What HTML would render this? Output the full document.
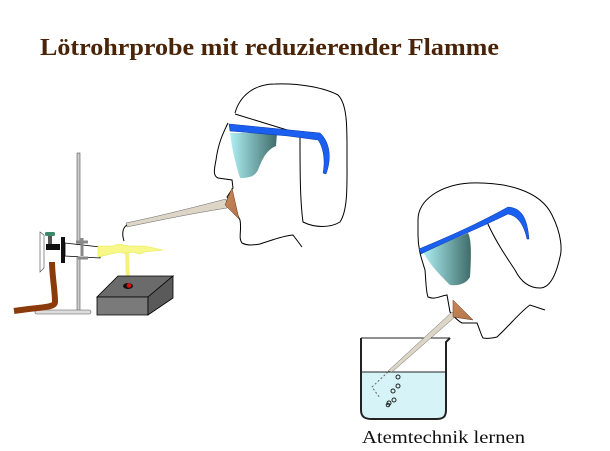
<!DOCTYPE html>
<html><head><meta charset="utf-8"><style>
html,body{margin:0;padding:0;background:#fff;}
svg{display:block;}
</style></head><body>
<svg width="610" height="451" viewBox="0 0 610 451" xmlns="http://www.w3.org/2000/svg">
<defs>
<linearGradient id="lens" x1="0" x2="1" y1="0" y2="0">
<stop offset="0" stop-color="#aef0f4"/><stop offset="1" stop-color="#3f6c6a"/>
</linearGradient>
<linearGradient id="wood" x1="0" x2="1" y1="0" y2="1">
<stop offset="0" stop-color="#c9875a"/><stop offset="1" stop-color="#b0744a"/>
</linearGradient>
</defs>
<text x="40" y="55" font-family="Liberation Serif, serif" font-weight="bold" font-size="24" fill="#4a2408" textLength="459" lengthAdjust="spacingAndGlyphs">Lötrohrprobe mit reduzierender Flamme</text>

<!-- Head 1 -->
<g fill="none" stroke="#000" stroke-width="1">
<path d="M235,113 C240,95 255,84 275,84 C300,83 325,88 338,95 C348,105 347,130 347,160 C347,185 348,210 340,222 C330,228 315,228 303,222 C300,200 300,170 300,137"/>
<path d="M235,114 L297,133"/>
<path d="M228,123 C222,135 218,145 216,160 C214,170 213,176 218,178 L232,180 L233,188 L227,197 C232,205 236,212 240,220 C242,230 238,238 242,243 C248,246 253,245 260,244 C272,240 283,236 293,235 L302,247"/>
</g>
<path d="M230,133 L277,133 L276,146 C266,150 262,160 258,170 C255,176 250,178 240,178 C236,165 232,150 230,133 Z" fill="url(#lens)"/>
<path d="M229,124 L290,130 L320,133 C328,140 333,155 326,174 L323,173 C326,158 322,145 318,140 L288,136 L230,131 Z" fill="#1a5ff0" stroke="#0a3aa0" stroke-width="0.5"/>
<!-- mouthpiece 1 -->
<path d="M126,223 C160,216 195,207 226,199 L227,208 C195,213 160,220 127,227 Z" fill="#ddd5c6" stroke="#666" stroke-width="0.5"/>
<path d="M232,188 L239,219 L225,205 Z" fill="url(#wood)" stroke="#6a3a1a" stroke-width="0.5"/>
<path d="M127,225 C122,228 122,235 124,241" fill="none" stroke="#000" stroke-width="1"/>

<!-- Stand -->
<rect x="77" y="153" width="3" height="160" fill="#ccc" stroke="#555" stroke-width="0.6"/>
<rect x="35" y="310" width="56" height="4" rx="2" fill="#ddd" stroke="#555" stroke-width="0.6"/>
<!-- hose -->
<path d="M52,262 C52,275 55,290 55,302 C55,308 40,307 14,311" fill="none" stroke="#8b3a0a" stroke-width="6"/>
<!-- burner -->
<path d="M40,232 L44,235 L44,268 L40,272 Z" fill="#fff" stroke="#444" stroke-width="0.6"/>
<rect x="45" y="232" width="10" height="4" rx="1.5" fill="#3a8a6a"/>
<rect x="48" y="236" width="4" height="8" fill="#555"/>
<rect x="46" y="244" width="14" height="6" fill="#111"/>
<rect x="61" y="237" width="4" height="26" fill="#111"/>
<path d="M65,243 L100,247 L100,258 L65,256 Z" fill="#fff" stroke="#000" stroke-width="0.8"/>
<path d="M76,242 L88,242 M82,238 L82,256 M78,258 L88,258" stroke="#888" stroke-width="3"/>
<!-- flame -->
<path d="M98,246 L113,246 L118,244 L130,246 L145,246 L163,250 L145,252 L140,254 L132,252 L126,254 L120,252 L98,257 Z" fill="#f8f88a" stroke="#e8e850" stroke-width="0.6"/>
<path d="M125,252 L126,282 L130,282 L129,252" fill="#f4f27a"/>
<!-- block -->
<path d="M118,276 L173,276 L148,297 L97,297 Z" fill="#6b6b6b" stroke="#000" stroke-width="0.8"/>
<path d="M97,297 L148,297 L148,315 L97,315 Z" fill="#7a7a7a" stroke="#000" stroke-width="0.8"/>
<path d="M148,297 L173,276 L173,298 L148,315 Z" fill="#5a5a5a" stroke="#000" stroke-width="0.8"/>
<ellipse cx="128" cy="286" rx="5" ry="3" fill="#111"/>
<circle cx="129" cy="285.5" r="2.3" fill="#e01010"/>

<!-- Head 2 -->
<g fill="none" stroke="#000" stroke-width="1">
<path d="M418,220 C418,200 440,185 470,183 C505,182 540,190 552,215 C562,235 562,250 560,257 C556,275 550,288 540,288 C528,288 520,280 515,270 C505,255 495,240 487,222"/>
<path d="M418,235 L418,220"/>
<path d="M418,235 C418,250 422,260 425,270 C426,282 426,292 428,297 C435,300 440,296 447,295 L450,312 C455,318 458,321 462,323 L477,323 C480,330 481,335 483,338 C488,339 493,338 497,337 C510,325 520,312 530,305 L545,310"/>
</g>
<path d="M423,252 L468,233 C472,240 471,260 470,277 C466,284 458,286 450,285 C440,275 430,265 423,252 Z" fill="url(#lens)"/>
<path d="M419,249 C440,240 470,228 508,207 C520,208 527,215 529,239 L527,239 C524,225 518,216 508,214 C475,230 445,242 421,254 Z" fill="#1a5ff0" stroke="#0a3aa0" stroke-width="0.5"/>
<!-- beaker -->
<rect x="362" y="372" width="84" height="46" fill="#d6f4f8"/>
<path d="M361,338 L361,410 C361,417 365,419 372,419 L436,419 C443,419 446,417 446,410 L446,342 L450,338" fill="none" stroke="#222" stroke-width="2"/>
<path d="M361,338 L450,338" stroke="#222" stroke-width="1"/>
<path d="M362,372 L446,372" stroke="#222" stroke-width="1"/>
<!-- tube 2 -->
<path d="M452,312 L456,316 L392,372 L388,371 Z" fill="#ddd5c6" stroke="#666" stroke-width="0.5"/>
<path d="M388,372 L372,387 L380,398" fill="none" stroke="#666" stroke-width="1" stroke-dasharray="2,2"/>
<path d="M453,300 L473,320 L453,317 Z" fill="url(#wood)" stroke="#6a3a1a" stroke-width="0.5"/>
<g fill="none" stroke="#222" stroke-width="1">
<circle cx="398" cy="377" r="2"/><circle cx="398" cy="386" r="2"/><circle cx="393" cy="391" r="2"/>
<circle cx="394" cy="400" r="2"/><circle cx="389" cy="403" r="2"/><circle cx="388" cy="405" r="1.8"/>
</g>
<text x="362" y="443" font-family="Liberation Serif, serif" font-size="18" fill="#111" textLength="163" lengthAdjust="spacingAndGlyphs">Atemtechnik lernen</text>
</svg>
</body></html>
